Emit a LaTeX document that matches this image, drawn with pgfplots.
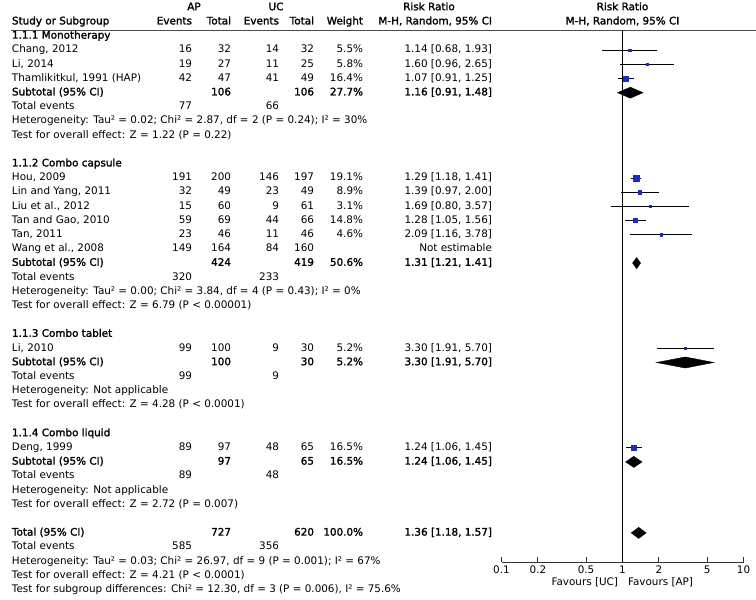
\documentclass[border=0pt]{standalone}
\usepackage{fontspec}
\setmainfont{DejaVu Sans}[BoldFont={DejaVu Sans},BoldFeatures={FakeBold=1.6}]
\usepackage{pgfplots}
\pgfplotsset{compat=1.18}
\definecolor{sqblue}{RGB}{25,45,195}
\newcommand{\fs}{\fontsize{10.4pt}{12pt}\selectfont}
% text row: index, name, AP events, AP total, UC events, UC total, weight, RR
\newcommand{\trow}[8]{%
 \node[anchor=mid west] at (12,{7.5+14.2*#1}) {#2};
 \node[anchor=mid east] at (192,{7.5+14.2*#1}) {#3};
 \node[anchor=mid east] at (231,{7.5+14.2*#1}) {#4};
 \node[anchor=mid east] at (279,{7.5+14.2*#1}) {#5};
 \node[anchor=mid east] at (314,{7.5+14.2*#1}) {#6};
 \node[anchor=mid east] at (363,{7.5+14.2*#1}) {#7};
 \node[anchor=mid east] at (492,{7.5+14.2*#1}) {#8};}
\newcommand{\lrow}[2]{\node[anchor=mid west] at (12,{7.5+14.2*#1}) {#2};}
\begin{document}
\begin{tikzpicture}[font=\fs]
\begin{scope}[x=1pt,y=-1pt,every node/.style={inner sep=0pt,outer sep=0pt}]
\useasboundingbox (0,0) rectangle (756,600);
% header
\begin{scope}[font=\fs\bfseries]
\node[anchor=mid] at (194,7.5) {AP};
\node[anchor=mid] at (276,7.5) {UC};
\node[anchor=mid] at (429,7.5) {Risk Ratio};
\node[anchor=mid] at (622.5,7.5) {Risk Ratio};
\trow{1}{Study or Subgroup}{Events}{Total}{Events}{Total}{Weight}{M-H, Random, 95\% CI}
\node[anchor=mid] at (622.5,21.7) {M-H, Random, 95\% CI};
\end{scope}
\draw[black!70,line width=0.9pt] (11,30) -- (756,30);
% group 1
\lrow{2}{\textbf{1.1.1 Monotherapy}}
\trow{3}{Chang, 2012}{16}{32}{14}{32}{5.5\%}{1.14 [0.68, 1.93]}
\trow{4}{Li, 2014}{19}{27}{11}{25}{5.8\%}{1.60 [0.96, 2.65]}
\trow{5}{Thamlikitkul, 1991 (HAP)}{42}{47}{41}{49}{16.4\%}{1.07 [0.91, 1.25]}
\trow{6}{\textbf{Subtotal (95\% CI)}}{}{\textbf{106}}{}{\textbf{106}}{\textbf{27.7\%}}{\textbf{1.16 [0.91, 1.48]}}
\trow{7}{Total events}{77}{}{66}{}{}{}
\lrow{8}{Heterogeneity: Tau² = 0.02; Chi² = 2.87, df = 2 (P = 0.24); I² = 30\%}
\lrow{9}{Test for overall effect: Z = 1.22 (P = 0.22)}
% group 2
\lrow{11}{\textbf{1.1.2 Combo capsule}}
\trow{12}{Hou, 2009}{191}{200}{146}{197}{19.1\%}{1.29 [1.18, 1.41]}
\trow{13}{Lin and Yang, 2011}{32}{49}{23}{49}{8.9\%}{1.39 [0.97, 2.00]}
\trow{14}{Liu et al., 2012}{15}{60}{9}{61}{3.1\%}{1.69 [0.80, 3.57]}
\trow{15}{Tan and Gao, 2010}{59}{69}{44}{66}{14.8\%}{1.28 [1.05, 1.56]}
\trow{16}{Tan, 2011}{23}{46}{11}{46}{4.6\%}{2.09 [1.16, 3.78]}
\trow{17}{Wang et al., 2008}{149}{164}{84}{160}{}{Not estimable}
\trow{18}{\textbf{Subtotal (95\% CI)}}{}{\textbf{424}}{}{\textbf{419}}{\textbf{50.6\%}}{\textbf{1.31 [1.21, 1.41]}}
\trow{19}{Total events}{320}{}{233}{}{}{}
\lrow{20}{Heterogeneity: Tau² = 0.00; Chi² = 3.84, df = 4 (P = 0.43); I² = 0\%}
\lrow{21}{Test for overall effect: Z = 6.79 (P < 0.00001)}
% group 3
\lrow{23}{\textbf{1.1.3 Combo tablet}}
\trow{24}{Li, 2010}{99}{100}{9}{30}{5.2\%}{3.30 [1.91, 5.70]}
\trow{25}{\textbf{Subtotal (95\% CI)}}{}{\textbf{100}}{}{\textbf{30}}{\textbf{5.2\%}}{\textbf{3.30 [1.91, 5.70]}}
\trow{26}{Total events}{99}{}{9}{}{}{}
\lrow{27}{Heterogeneity: Not applicable}
\lrow{28}{Test for overall effect: Z = 4.28 (P < 0.0001)}
% group 4
\lrow{30}{\textbf{1.1.4 Combo liquid}}
\trow{31}{Deng, 1999}{89}{97}{48}{65}{16.5\%}{1.24 [1.06, 1.45]}
\trow{32}{\textbf{Subtotal (95\% CI)}}{}{\textbf{97}}{}{\textbf{65}}{\textbf{16.5\%}}{\textbf{1.24 [1.06, 1.45]}}
\trow{33}{Total events}{89}{}{48}{}{}{}
\lrow{34}{Heterogeneity: Not applicable}
\lrow{35}{Test for overall effect: Z = 2.72 (P = 0.007)}
% total
\trow{37}{\textbf{Total (95\% CI)}}{}{\textbf{727}}{}{\textbf{620}}{\textbf{100.0\%}}{\textbf{1.36 [1.18, 1.57]}}
\trow{38}{Total events}{585}{}{356}{}{}{}
\lrow{39}{Heterogeneity: Tau² = 0.03; Chi² = 26.97, df = 9 (P = 0.001); I² = 67\%}
\lrow{40}{Test for overall effect: Z = 4.21 (P < 0.0001)}
\lrow{41}{Test for subgroup differences: Chi² = 12.30, df = 3 (P = 0.006), I² = 75.6\%}
% favours
\node[anchor=mid east] at (618,582.5) {Favours [UC]};
\node[anchor=mid west] at (628,582.5) {Favours [AP]};
\end{scope}
% forest plot
\begin{axis}[at={(501.5pt,-562pt)}, anchor=south west, scale only axis,
  width=242pt, height=532pt, xmode=log, xmin=0.1, xmax=10,
  ymin=-39.05, ymax=-1.585, axis x line*=bottom, axis y line=none,
  xtick={0.1,0.2,0.5,1,2,5,10}, xticklabels={0.1,0.2,0.5,1,2,5,10},
  minor xtick={}, xtick align=inside, major tick length=5pt,
  x axis line style={black!80,line width=0.9pt},
  tick style={black!80,line width=0.9pt},
  tick label style={font=\fs, inner sep=0pt, yshift=-4pt},
  clip=false]
\addplot[black, line width=1pt] coordinates {(1,-1.585) (1,-39.05)};
% confidence intervals
\addplot[black, line width=0.7pt] coordinates {(0.68,-3) (1.93,-3)};
\addplot[black, line width=0.7pt] coordinates {(0.96,-4) (2.65,-4)};
\addplot[black, line width=0.7pt] coordinates {(0.91,-5) (1.25,-5)};
\addplot[black, line width=0.7pt] coordinates {(1.18,-12) (1.41,-12)};
\addplot[black, line width=0.7pt] coordinates {(0.97,-13) (2.00,-13)};
\addplot[black, line width=0.7pt] coordinates {(0.80,-14) (3.57,-14)};
\addplot[black, line width=0.7pt] coordinates {(1.05,-15) (1.56,-15)};
\addplot[black, line width=0.7pt] coordinates {(1.16,-16) (3.78,-16)};
\addplot[black, line width=0.7pt] coordinates {(1.91,-24) (5.70,-24)};
\addplot[black, line width=0.7pt] coordinates {(1.06,-31) (1.45,-31)};
% point estimates (size by weight)
\addplot[only marks, mark=square*, mark size=1.35pt, color=sqblue] coordinates {(1.14,-3)};
\addplot[only marks, mark=square*, mark size=1.35pt, color=sqblue] coordinates {(1.60,-4)};
\addplot[only marks, mark=square*, mark size=2.5pt, color=sqblue] coordinates {(1.07,-5)};
\addplot[only marks, mark=square*, mark size=3pt, color=sqblue] coordinates {(1.29,-12)};
\addplot[only marks, mark=square*, mark size=1.65pt, color=sqblue] coordinates {(1.39,-13)};
\addplot[only marks, mark=square*, mark size=1.1pt, color=sqblue] coordinates {(1.69,-14)};
\addplot[only marks, mark=square*, mark size=2.2pt, color=sqblue] coordinates {(1.28,-15)};
\addplot[only marks, mark=square*, mark size=1.2pt, color=sqblue] coordinates {(2.09,-16)};
\addplot[only marks, mark=square*, mark size=1.2pt, color=sqblue] coordinates {(3.30,-24)};
\addplot[only marks, mark=square*, mark size=2.2pt, color=sqblue] coordinates {(1.24,-31)};
% pooled diamonds
\addplot[fill=black, draw=black] coordinates {(0.91,-6) (1.16,-5.61) (1.48,-6) (1.16,-6.39)} --cycle;
\addplot[fill=black, draw=black] coordinates {(1.21,-18) (1.31,-17.61) (1.41,-18) (1.31,-18.39)} --cycle;
\addplot[fill=black, draw=black] coordinates {(1.91,-25) (3.30,-24.61) (5.70,-25) (3.30,-25.39)} --cycle;
\addplot[fill=black, draw=black] coordinates {(1.06,-32) (1.24,-31.61) (1.45,-32) (1.24,-32.39)} --cycle;
\addplot[fill=black, draw=black] coordinates {(1.18,-37) (1.36,-36.61) (1.57,-37) (1.36,-37.39)} --cycle;
\end{axis}
\end{tikzpicture}
\end{document}
